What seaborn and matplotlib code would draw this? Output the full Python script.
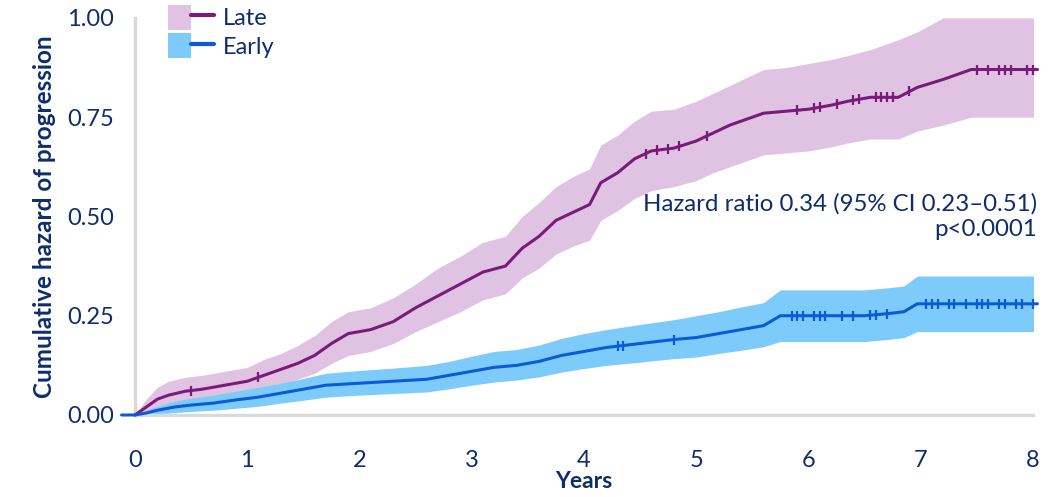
import numpy as np
import pandas as pd
import matplotlib
matplotlib.use("Agg")
import matplotlib.pyplot as plt
import seaborn as sns
from matplotlib.patches import Patch
from matplotlib.lines import Line2D
from matplotlib.legend_handler import HandlerTuple

# Cumulative hazard, late vs early therapy
late_t = [0, 0.1, 0.2, 0.3, 0.45, 0.6, 0.8, 1.0, 1.15, 1.3,
          1.45, 1.6, 1.75, 1.9, 2.1, 2.3, 2.5, 2.7, 2.9, 3.1,
          3.3, 3.45, 3.6, 3.75, 3.9, 4.05, 4.15, 4.3, 4.45, 4.6,
          4.8, 5.0, 5.15, 5.3, 5.45, 5.6, 5.8, 6.0, 6.2, 6.35,
          6.55, 6.8, 6.97, 7.2, 7.45, 8.04]
late_h = [0, 0.02, 0.04, 0.05, 0.06, 0.065, 0.075, 0.085, 0.10, 0.115,
          0.13, 0.15, 0.18, 0.205, 0.215, 0.235, 0.27, 0.30, 0.33, 0.36,
          0.375, 0.42, 0.45, 0.49, 0.51, 0.53, 0.585, 0.61, 0.645, 0.665,
          0.672, 0.69, 0.71, 0.73, 0.745, 0.76, 0.765, 0.77, 0.78, 0.79,
          0.80, 0.80, 0.825, 0.845, 0.87, 0.87]
late_lo = [0, 0.005, 0.015, 0.022, 0.03, 0.035, 0.045, 0.055, 0.065, 0.078,
           0.09, 0.105, 0.13, 0.15, 0.16, 0.18, 0.21, 0.235, 0.26, 0.29,
           0.305, 0.345, 0.37, 0.405, 0.425, 0.44, 0.49, 0.515, 0.545, 0.565,
           0.575, 0.59, 0.61, 0.625, 0.64, 0.655, 0.66, 0.665, 0.675, 0.685,
           0.695, 0.695, 0.715, 0.73, 0.75, 0.75]
late_hi = [0, 0.04, 0.07, 0.085, 0.095, 0.10, 0.11, 0.12, 0.14, 0.155,
           0.175, 0.20, 0.235, 0.26, 0.27, 0.295, 0.33, 0.37, 0.40, 0.435,
           0.45, 0.50, 0.535, 0.575, 0.60, 0.62, 0.68, 0.705, 0.74, 0.765,
           0.77, 0.79, 0.81, 0.83, 0.85, 0.87, 0.875, 0.885, 0.895, 0.905,
           0.92, 0.945, 0.965, 1.0, 1.0, 1.0]

early_t = [-0.12, 0, 0.1, 0.2, 0.35, 0.5, 0.7, 0.9, 1.1, 1.3,
           1.5, 1.7, 2.0, 2.3, 2.6, 2.8, 3.0, 3.2, 3.4, 3.6,
           3.8, 4.0, 4.2, 4.5, 4.8, 5.0, 5.2, 5.4, 5.6, 5.75,
           6.0, 6.5, 6.7, 6.85, 6.97, 8.04]
early_h = [0, 0, 0.005, 0.012, 0.02, 0.025, 0.03, 0.038, 0.045, 0.055,
           0.065, 0.075, 0.08, 0.085, 0.09, 0.10, 0.11, 0.12, 0.125, 0.135,
           0.15, 0.16, 0.17, 0.18, 0.19, 0.195, 0.205, 0.215, 0.225, 0.25,
           0.25, 0.25, 0.255, 0.26, 0.28, 0.28]
early_lo = [0, 0, 0.0, 0.003, 0.006, 0.009, 0.012, 0.017, 0.022, 0.03,
            0.037, 0.045, 0.05, 0.054, 0.058, 0.066, 0.075, 0.083, 0.088, 0.096,
            0.108, 0.117, 0.125, 0.133, 0.142, 0.146, 0.155, 0.163, 0.172, 0.185,
            0.185, 0.185, 0.19, 0.195, 0.21, 0.21]
early_hi = [0, 0, 0.012, 0.022, 0.035, 0.042, 0.05, 0.06, 0.07, 0.08,
            0.092, 0.105, 0.112, 0.118, 0.125, 0.135, 0.148, 0.16, 0.165, 0.176,
            0.193, 0.205, 0.215, 0.228, 0.24, 0.25, 0.26, 0.272, 0.283, 0.315,
            0.315, 0.315, 0.32, 0.325, 0.35, 0.35]

# censoring times (tick marks on the curves)
late_censor = [0.5, 1.1, 4.55, 4.65, 4.75, 4.85, 5.1, 5.9, 6.05, 6.1, 6.25,
               6.4, 6.45, 6.6, 6.65, 6.7, 6.75, 6.9, 7.5, 7.6, 7.7, 7.75,
               7.8, 7.95, 8.0]
early_censor = [4.3, 4.35, 4.8, 5.85, 5.9, 5.95, 6.05, 6.1, 6.15, 6.3, 6.4,
                6.55, 6.6, 6.7, 7.05, 7.1, 7.15, 7.25, 7.3, 7.4, 7.5, 7.55,
                7.6, 7.7, 7.75, 7.85, 7.9, 8.0]

x_ticks = [0, 1, 2, 3, 4, 5, 6, 7, 8]
y_ticks = [0.0, 0.25, 0.5, 0.75, 1.0]

navy = "#0e2d6b"
late_line, late_band = "#7a1a7a", "#e0c3e3"
early_line, early_band = "#0b5bd8", "#7ccbfa"
grey = "#d9d9d9"

sns.set_style("white")
plt.rcParams["font.family"] = ["Lato", "DejaVu Sans"]

fig = plt.figure(figsize=(10.49, 4.97), dpi=100)
ax = fig.add_axes([0.1287, 0.165, 0.856, 0.799])

series = [
    (late_t, late_h, late_lo, late_hi, late_censor, late_line, late_band),
    (early_t, early_h, early_lo, early_hi, early_censor, early_line, early_band),
]
for t, h, lo, hi, cens, lc, bc in series:
    ax.fill_between(t, lo, hi, color=bc, lw=0, zorder=1)
for t, h, lo, hi, cens, lc, bc in series:
    df = pd.DataFrame({"t": t, "h": h})
    sns.lineplot(data=df, x="t", y="h", ax=ax, color=lc, lw=2.2,
                 sort=False, zorder=3, clip_on=False)
    ax.plot(cens, np.interp(cens, t, h), ls="none", marker="|",
            ms=7, mew=1.6, color=lc, zorder=4, clip_on=False)

ax.set_xlim(0, 8)
ax.set_ylim(0, 1)
ax.set_xticks(x_ticks)
ax.set_xticklabels([str(v) for v in x_ticks])
ax.set_yticks(y_ticks)
ax.set_yticklabels([f"{v:.2f}" for v in y_ticks])

for side in ["top", "right"]:
    ax.spines[side].set_visible(False)
for side in ["left", "bottom"]:
    ax.spines[side].set_color(grey)
    ax.spines[side].set_linewidth(2.4)
ax.tick_params(axis="both", direction="out", width=2.4, color=grey,
               labelcolor=navy, labelsize=17)
ax.tick_params(axis="x", length=15, pad=10)
ax.tick_params(axis="y", length=11, pad=4)

ax.set_xlabel("Years", fontsize=16.5, fontweight="bold", color=navy, labelpad=0)
ax.set_ylabel("Cumulative hazard of progression", fontsize=17.5,
              fontweight="bold", color=navy, labelpad=8)

ax.text(1.005, 0.5, "Hazard ratio 0.34 (95% CI 0.23\u20130.51)\np<0.0001",
        transform=ax.transAxes, ha="right", va="center", fontsize=17.3,
        color=navy, linespacing=1.3)

handles = [
    (Patch(facecolor=late_band, edgecolor="none"), Line2D([], [], color=late_line, lw=3)),
    (Patch(facecolor=early_band, edgecolor="none"), Line2D([], [], color=early_line, lw=3)),
]
leg = ax.legend(handles, ["Late", "Early"], handler_map={tuple: HandlerTuple(ndivide=None, pad=0)},
                loc="upper left", bbox_to_anchor=(0.037, 1.033), frameon=False,
                fontsize=17, handlelength=1.95, handleheight=1.25,
                handletextpad=0.35, labelspacing=0.15, borderpad=0, borderaxespad=0)
for txt in leg.get_texts():
    txt.set_color(navy)

fig.savefig("out.png", dpi=100)
